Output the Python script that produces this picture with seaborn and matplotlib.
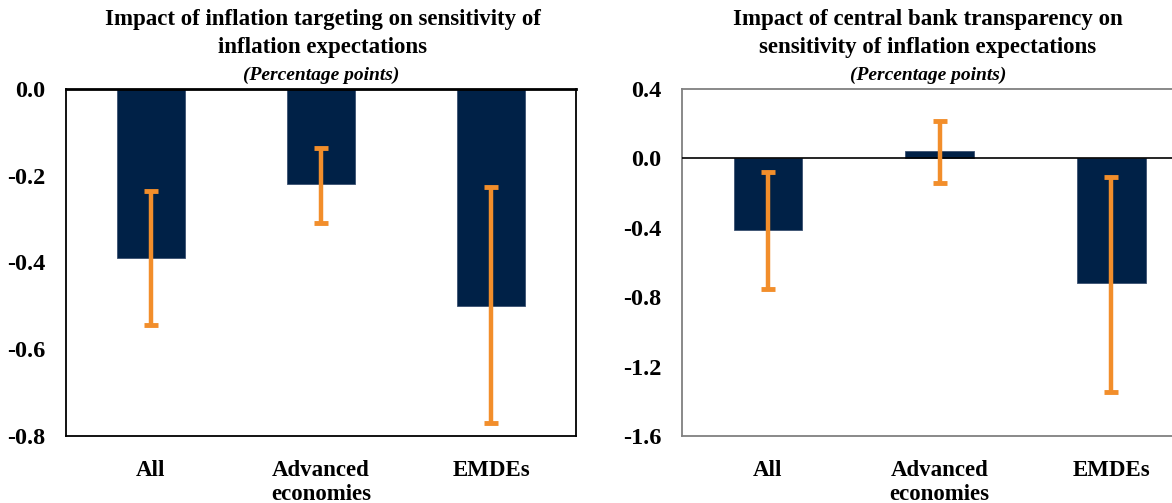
import pandas as pd
import seaborn as sns
import matplotlib.pyplot as plt
import numpy as np

# data
categories = ["All", "Advanced\neconomies", "EMDEs"]

# left panel: inflation targeting
it_est = [-0.39, -0.22, -0.50]
it_low = [-0.545, -0.31, -0.77]
it_high = [-0.236, -0.135, -0.227]

# right panel: central bank transparency
cbt_est = [-0.41, 0.04, -0.72]
cbt_low = [-0.75, -0.14, -1.345]
cbt_high = [-0.08, 0.215, -0.105]

navy = "#002147"
orange = "#F28E2B"

sns.set_style("white")
plt.rcParams['font.family'] = ['Liberation Serif', 'DejaVu Serif']
plt.rcParams['font.weight'] = 'bold'
plt.rcParams['axes.unicode_minus'] = False
plt.rcParams['text.color'] = 'black'
plt.rcParams['xtick.color'] = 'black'
plt.rcParams['ytick.color'] = 'black'

W, H = 1172, 503
fig = plt.figure(figsize=(W / 100, H / 100), dpi=100)


def panel(rect, est, low, high, yticks, ylim, spine_color):
    ax = fig.add_axes(rect)
    df = pd.DataFrame({"group": categories, "value": est})
    sns.barplot(data=df, x="group", y="value", ax=ax, color=navy, saturation=1,
                width=0.4, errorbar=None, edgecolor="#3a5070", linewidth=0.6)
    est = np.array(est)
    yerr = [est - np.array(low), np.array(high) - est]
    ax.errorbar(range(len(categories)), est, yerr=yerr, fmt="none", ecolor=orange,
                elinewidth=3.2, capsize=5, capthick=3.5, zorder=5)
    ax.set_ylim(*ylim)
    ax.set_yticks(yticks)
    ax.set_yticklabels([f"{t:.1f}" for t in yticks], fontsize=17.5,
                       fontweight="bold", color="black")
    ax.set_xticks(range(len(categories)))
    ax.set_xticklabels(categories, fontsize=16.5, fontweight="bold",
                       linespacing=1.2, color="black")
    ax.tick_params(axis="both", length=0)
    ax.tick_params(axis="y", pad=15)
    ax.tick_params(axis="x", pad=17)
    ax.set_xlabel("")
    ax.set_ylabel("")
    ax.set_xlim(-0.5, 2.5)
    for s in ax.spines.values():
        s.set_visible(True)
        s.set_color(spine_color)
        s.set_linewidth(1.3)
    return ax


ax1 = panel([66 / W, 1 - 436 / H, 510 / W, 347 / H], it_est, it_low, it_high,
            [0.0, -0.2, -0.4, -0.6, -0.8], (-0.8, 0.0), "black")
ax1.spines["top"].set_linewidth(2)

ax2 = panel([682 / W, 1 - 436 / H, 515 / W, 347 / H], cbt_est, cbt_low, cbt_high,
            [0.4, 0.0, -0.4, -0.8, -1.2, -1.6], (-1.6, 0.4), "#808080")
ax2.axhline(0, color="black", linewidth=1.2, zorder=4)

# titles
fig.text(323 / W, 1 - 20 / H, "Impact of inflation targeting on sensitivity of",
         ha="center", va="center", fontsize=16.5, fontweight="bold")
fig.text(323 / W, 1 - 47 / H, "inflation expectations",
         ha="center", va="center", fontsize=16.5, fontweight="bold")
fig.text(321 / W, 1 - 75 / H, "(Percentage points)", ha="center", va="center",
         fontsize=14, fontweight="bold", style="italic")

fig.text(928 / W, 1 - 20 / H, "Impact of central bank transparency on",
         ha="center", va="center", fontsize=16.5, fontweight="bold")
fig.text(928 / W, 1 - 47 / H, "sensitivity of inflation expectations",
         ha="center", va="center", fontsize=16.5, fontweight="bold")
fig.text(928 / W, 1 - 75 / H, "(Percentage points)", ha="center", va="center",
         fontsize=14, fontweight="bold", style="italic")

fig.savefig("out.png", dpi=100)
